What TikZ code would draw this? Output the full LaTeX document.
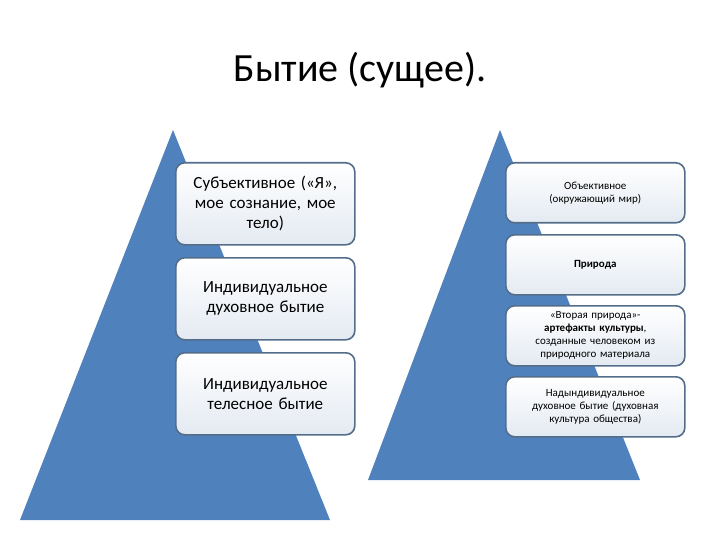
\documentclass[tikz,border=0pt]{standalone}
\usepackage{fontspec}
\setmainfont{Carlito}
\begin{document}
\begin{tikzpicture}[x=1pt,y=-1pt,
 bx/.style={draw={rgb,255:red,84;green,110;blue,138},line width=1.6pt,rounded corners=9pt,top color=white,bottom color={rgb,255:red,228;green,234;blue,242},align=center,inner sep=2pt},
 lb/.style={bx,minimum width=179pt,minimum height=82pt,font=\fontsize{17}{20}\selectfont,text width=170pt},
 rb/.style={bx,minimum width=179pt,minimum height=60pt,font=\fontsize{11}{13}\selectfont,text width=170pt}]
\useasboundingbox (0,0) rectangle (720,540);
\fill[white] (0,0) rectangle (720,540);
\node (title) at (360,70) {\fontsize{40}{46}\selectfont Бытие (сущее).};
\fill[fill={rgb,255:red,79;green,129;blue,189}] (173,130) -- (330,520) -- (20,520) -- cycle;
\fill[fill={rgb,255:red,79;green,129;blue,189}] (500,130) -- (640,480) -- (368,480) -- cycle;
\node[lb,anchor=north west] (l1) at (175,162) {Субъективное («Я»,\\ мое сознание, мое\\ тело)};
\node[lb,anchor=north west] (l2) at (175,257) {Индивидуальное\\ духовное бытие\\[18pt]};
\node[lb,anchor=north west] (l3) at (175,352) {Индивидуальное\\ телесное бытие\\[18pt]};
\node[rb,anchor=north west] (r1) at (505,162) {Объективное\\ (окружающий мир)};
\node[rb,anchor=north west] (r2) at (505,234) {\textbf{Природа}\\[12pt]};
\node[rb,anchor=north west] (r3) at (505,305) {«Вторая природа»-\\ \textbf{артефакты культуры},\\ созданные человеком из\\ природного материала};
\node[rb,anchor=north west] (r4) at (505,376) {Надындивидуальное\\ духовное бытие (духовная\\ культура общества)};
\end{tikzpicture}
\end{document}
